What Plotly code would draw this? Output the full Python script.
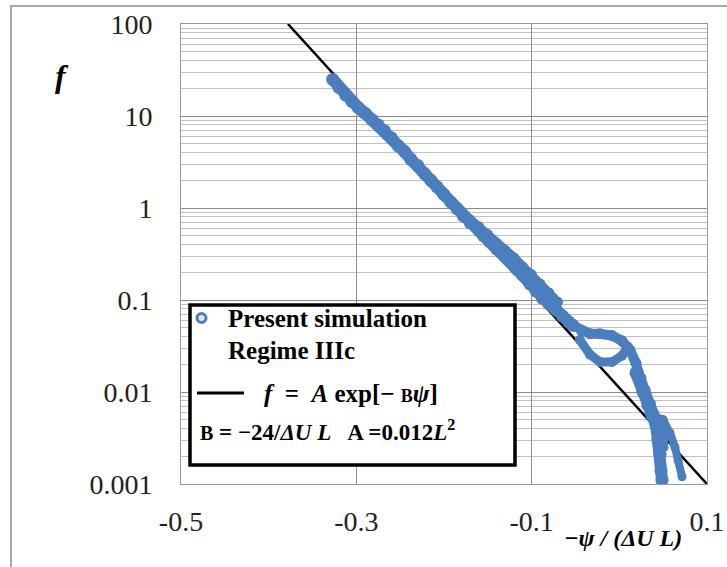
import plotly.graph_objects as go

# ---------------- data ----------------
# fitted line  f = A exp(-B psi), drawn as a straight line on the log axis
fit_x = [-0.378, 0.100]
fit_f = [100.0, 0.001]

# main band of simulation points
main_x = [-0.327, -0.32, -0.312, -0.305, -0.298, -0.29, -0.282, -0.275, -0.268, -0.26,
          -0.252, -0.245, -0.238, -0.23, -0.222, -0.215, -0.208, -0.2, -0.192, -0.185,
          -0.178, -0.17, -0.16, -0.155, -0.148, -0.14, -0.132, -0.125, -0.118, -0.11,
          -0.102, -0.095, -0.088, -0.08, -0.072, -0.065, -0.058, -0.053]
main_f = [25.0, 20.5, 16.8, 14.4, 12.4, 10.7, 9.1, 8.0, 6.9, 5.8,
          4.7, 4.1, 3.4, 2.9, 2.35, 2.0, 1.7, 1.4, 1.15, 0.98,
          0.82, 0.69, 0.57, 0.5, 0.43, 0.36, 0.31, 0.265, 0.22, 0.185,
          0.15, 0.125, 0.105, 0.09, 0.078, 0.067, 0.058, 0.053]

# upper edge of the thicker part of the band
edge_x = [-0.17, -0.16, -0.15, -0.14, -0.13, -0.12, -0.11, -0.1, -0.09, -0.08, -0.07]
edge_f = [0.75, 0.63, 0.52, 0.42, 0.35, 0.29, 0.23, 0.19, 0.15, 0.12, 0.095]

# upper branch of the loop
loopu_x = [-0.053, -0.043, -0.0335, -0.022, -0.0084, 0.003, 0.0122, 0.019, 0.0247, 0.028]
loopu_f = [0.053, 0.046, 0.043, 0.043, 0.041, 0.036, 0.0285, 0.0205, 0.0142, 0.01]

# lower branch of the loop
loopl_x = [-0.045, -0.0335, -0.022, -0.0084, 0.003, 0.0099]
loopl_f = [0.0367, 0.0255, 0.0212, 0.0212, 0.0248, 0.031]

# descending tail and its branches
tail_x = [0.019, 0.027, 0.0327, 0.0372, 0.0418, 0.044, 0.0464, 0.0475, 0.0487]
tail_f = [0.0161, 0.01, 0.0072, 0.0056, 0.0044, 0.003, 0.0021, 0.0014, 0.0011]
tail2_x = [0.022, 0.03, 0.036, 0.04]
tail2_f = [0.0165, 0.0105, 0.0075, 0.0058]
brm_x = [0.0372, 0.0498, 0.051, 0.051]
brm_f = [0.0056, 0.005, 0.0034, 0.0025]
brr_x = [0.0498, 0.0578, 0.0635, 0.067, 0.0715]
brr_f = [0.005, 0.0036, 0.0025, 0.0018, 0.0012]

x_ticks = [-0.5, -0.3, -0.1, 0.1]
x_ticktext = ["-0.5", "-0.3", "-0.1", "0.1"]
y_ticks = [0.001, 0.01, 0.1, 1, 10, 100]
y_ticktext = ["0.001", "0.01", "0.1", "1", "10", "100"]
y_minor = [m * d for d in [0.001, 0.01, 0.1, 1, 10] for m in range(2, 10)]

# ---------------- figure ----------------
W, H = 727, 567
L, R, T, B = 181, 20, 24, 83
PW, PH = W - L - R, H - T - B

def px(xp):
    return (xp - L) / PW

def py(yp):
    return (H - B - yp) / PH

BLUE = "#4a7ebf"
SERIF = "Liberation Serif"

fig = go.Figure()

fig.add_trace(go.Scatter(x=fit_x, y=fit_f, mode="lines",
                         line=dict(color="black", width=2.5),
                         showlegend=False))

segments = [(main_x, main_f, 12), (edge_x, edge_f, 9), (loopu_x, loopu_f, 10),
            (loopl_x, loopl_f, 9), (tail_x, tail_f, 12), (tail2_x, tail2_f, 9),
            (brm_x, brm_f, 8), (brr_x, brr_f, 8)]
for sx, sf, w in segments:
    fig.add_trace(go.Scatter(x=sx, y=sf, mode="lines+markers",
                             line=dict(color=BLUE, width=w),
                             marker=dict(color=BLUE, size=w + 1),
                             showlegend=False, hoverinfo="skip"))

fig.update_xaxes(range=[-0.5, 0.1], tickvals=x_ticks, ticktext=x_ticktext,
                 showgrid=True, gridcolor="#8f8f8f", gridwidth=1, zeroline=False,
                 showline=True, linecolor="#9a9a9a", mirror=True, ticks="",
                 ticklabelstandoff=12, automargin=False,
                 tickfont=dict(family=SERIF, size=28, color="#222"))
fig.update_yaxes(type="log", range=[-3, 2], tickvals=y_ticks, ticktext=y_ticktext,
                 showgrid=True, gridcolor="#8a8a8a", gridwidth=1, zeroline=False,
                 showline=True, linecolor="#9a9a9a", mirror=True, ticks="",
                 ticklabelstandoff=22, automargin=False,
                 minor=dict(showgrid=True, gridcolor="#c2c2c2", gridwidth=1, ticks="",
                            tickvals=y_minor),
                 tickfont=dict(family=SERIF, size=28, color="#222"))

shapes = [
    # outer frame
    dict(type="rect", xref="paper", yref="paper", x0=px(11), x1=px(760), y0=py(620), y1=py(6),
         line=dict(color="#a8a8a8", width=2), fillcolor="rgba(0,0,0,0)", layer="below"),
    # legend box
    dict(type="rect", xref="paper", yref="paper", x0=px(190), x1=px(515), y0=py(465), y1=py(305),
         line=dict(color="black", width=3.5), fillcolor="white", layer="above"),
    # legend marker
    dict(type="circle", xref="paper", yref="paper", x0=px(197), x1=px(206), y0=py(322.5), y1=py(313.5),
         line=dict(color=BLUE, width=3), fillcolor="#dfe9f6", layer="above"),
    # legend line sample
    dict(type="line", xref="paper", yref="paper", x0=px(197), x1=px(244), y0=py(393), y1=py(393),
         line=dict(color="black", width=3), layer="above"),
]

ann = []
def add_text(text, xp, yp, size=25, xanchor="left"):
    ann.append(dict(text=text, xref="paper", yref="paper", x=px(xp), y=py(yp),
                    xanchor=xanchor, yanchor="middle", showarrow=False,
                    font=dict(family=SERIF, size=size, color="black")))

add_text("<b>Present simulation</b>", 226, 318)
add_text("<b>Regime IIIc</b>", 226, 350)
add_text("<b><i>f</i>  =  <i>A</i> exp[− <span style='font-size:18px'>B</span><i>ψ</i>]</b>", 262, 393)
add_text("<b><span style='font-size:20px'>B</span> = −24/<i>ΔU L</i>   A =0.012<i>L</i><sup>2</sup></b>", 198, 430, size=23)
add_text("<b><i>f</i></b>", 62, 76, size=32, xanchor="center")
add_text("<b><i>−ψ / (ΔU L)</i></b>", 623, 538, size=24, xanchor="center")

fig.update_layout(width=W, height=H, margin=dict(l=L, r=R, t=T, b=B),
                  paper_bgcolor="white", plot_bgcolor="white",
                  shapes=shapes, annotations=ann, showlegend=False)

fig.write_html("out.html")
